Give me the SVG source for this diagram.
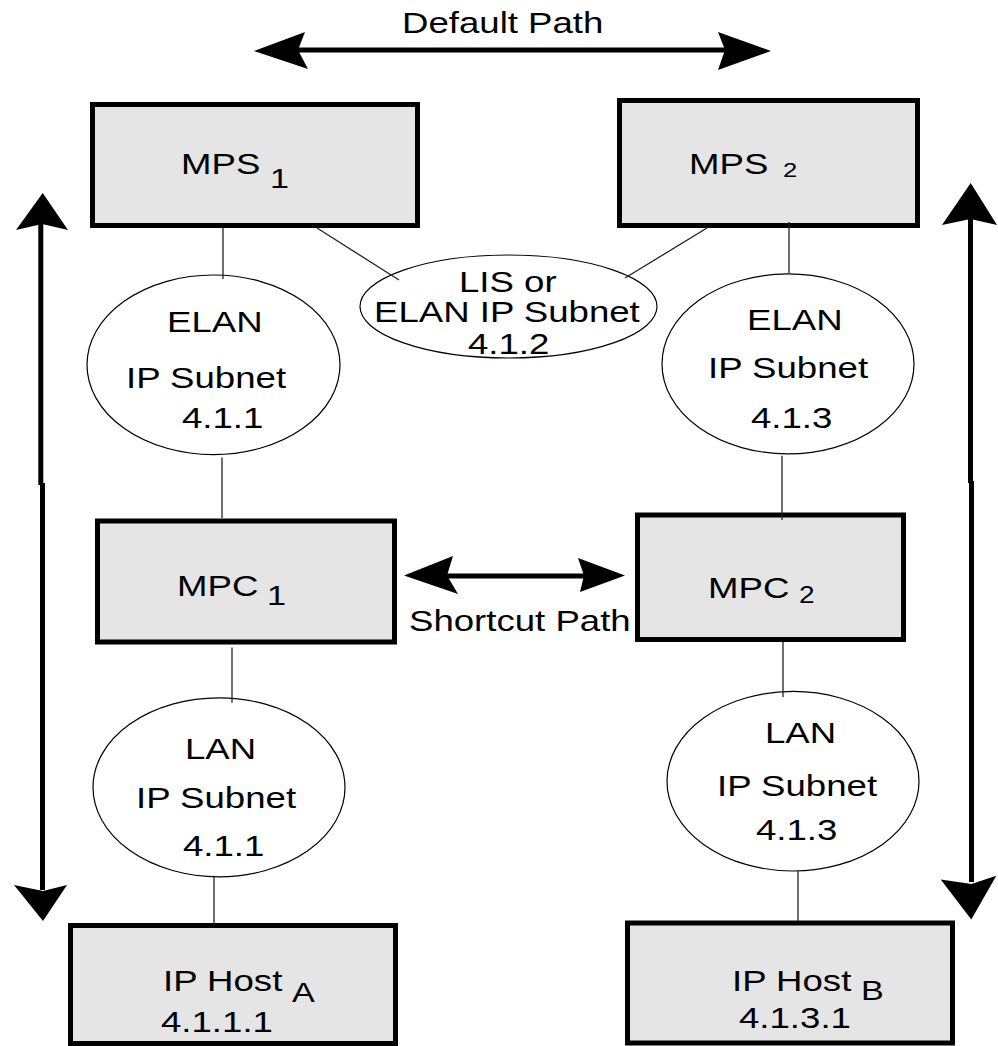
<svg xmlns="http://www.w3.org/2000/svg" width="998" height="1046" viewBox="0 0 998 1046">
  <style>
    .box { fill: #e5e5e5; stroke: #000; stroke-width: 5; }
    .net { fill: none; stroke: #000; stroke-width: 1.2; }
    .link { stroke: #222; stroke-width: 1.3; fill: none; }
    .path { stroke: #000; stroke-width: 5; fill: none; }
    .head { fill: #000; stroke: none; }
    .t { font-family: "Liberation Sans", Arial, sans-serif; font-size: 30px; fill: #000; }
    .s28 { font-size: 28px; }
    .s23 { font-size: 23px; }
    .s21 { font-size: 21px; }
  </style>
  <rect width="998" height="1046" fill="#fff"/>

  <!-- label for the default path arrow -->
  <text class="t" transform="matrix(1.22 0 0 1 402 33)">Default Path</text>

  <g id="mps1">
    <rect class="box" x="92.5" y="104.5" width="325" height="121"/>
    <text class="t" transform="matrix(1.22 0 0 1 181 174)">MPS</text>
    <text class="t s28" transform="matrix(1.22 0 0 1 270 188)">1</text>
  </g>

  <g id="mps2">
    <rect class="box" x="619.5" y="100.5" width="298" height="125"/>
    <text class="t" transform="matrix(1.22 0 0 1 689 174)">MPS</text>
    <text class="t s21" transform="matrix(1.22 0 0 1 783 177)">2</text>
  </g>

  <g id="lis">
    <ellipse class="net" cx="508.5" cy="306.5" rx="148.5" ry="51.5"/>
    <text class="t" transform="matrix(1.22 0 0 1 459 292)">LIS or</text>
    <text class="t" transform="matrix(1.22 0 0 1 374 322)">ELAN IP Subnet</text>
    <text class="t" transform="matrix(1.22 0 0 1 468 354)">4.1.2</text>
  </g>

  <g id="elan1">
    <ellipse class="net" cx="213.5" cy="364.8" rx="126.5" ry="89.8"/>
    <text class="t" transform="matrix(1.22 0 0 1 167 332)">ELAN</text>
    <text class="t" transform="matrix(1.22 0 0 1 126 388)">IP Subnet</text>
    <text class="t" transform="matrix(1.22 0 0 1 182 428)">4.1.1</text>
  </g>

  <g id="elan2">
    <ellipse class="net" cx="788" cy="363.9" rx="126" ry="90"/>
    <text class="t" transform="matrix(1.22 0 0 1 747 330)">ELAN</text>
    <text class="t" transform="matrix(1.22 0 0 1 708 378)">IP Subnet</text>
    <text class="t" transform="matrix(1.22 0 0 1 751 428)">4.1.3</text>
  </g>

  <g id="mpc1">
    <rect class="box" x="97.5" y="521" width="297" height="121"/>
    <text class="t" transform="matrix(1.22 0 0 1 177 596)">MPC</text>
    <text class="t s28" transform="matrix(1.22 0 0 1 267 605)">1</text>
  </g>

  <g id="mpc2">
    <rect class="box" x="637.5" y="515" width="266" height="124.5"/>
    <text class="t" transform="matrix(1.22 0 0 1 708 597.5)">MPC</text>
    <text class="t s23" transform="matrix(1.22 0 0 1 799 603)">2</text>
  </g>

  <!-- label for the shortcut path arrow -->
  <text class="t" transform="matrix(1.22 0 0 1 409 631)">Shortcut Path</text>

  <g id="lan1">
    <ellipse class="net" cx="219" cy="787.3" rx="126" ry="89.5"/>
    <text class="t" transform="matrix(1.22 0 0 1 185 758.6)">LAN</text>
    <text class="t" transform="matrix(1.22 0 0 1 136 808.4)">IP Subnet</text>
    <text class="t" transform="matrix(1.22 0 0 1 183 856)">4.1.1</text>
  </g>

  <g id="lan2">
    <ellipse class="net" cx="793" cy="781.2" rx="126" ry="89.8"/>
    <text class="t" transform="matrix(1.22 0 0 1 765 742.7)">LAN</text>
    <text class="t" transform="matrix(1.22 0 0 1 717 795.9)">IP Subnet</text>
    <text class="t" transform="matrix(1.22 0 0 1 756 840.3)">4.1.3</text>
  </g>

  <g id="hostA">
    <rect class="box" x="70.5" y="925.5" width="325" height="118"/>
    <text class="t" transform="matrix(1.22 0 0 1 163 991)">IP Host</text>
    <text class="t s28" transform="matrix(1.22 0 0 1 292 1002)">A</text>
    <text class="t" transform="matrix(1.22 0 0 1 161 1031.5)">4.1.1.1</text>
  </g>

  <g id="hostB">
    <rect class="box" x="627.5" y="923" width="325" height="120"/>
    <text class="t" transform="matrix(1.22 0 0 1 732 990.5)">IP Host</text>
    <text class="t s28" transform="matrix(1.22 0 0 1 861 1000.4)">B</text>
    <text class="t" transform="matrix(1.22 0 0 1 739 1027.7)">4.1.3.1</text>
  </g>

  <g id="connectors">
    <!-- thin attachment lines -->
    <line class="link" x1="223" y1="228" x2="223" y2="279"/>
    <line class="link" x1="317" y1="228" x2="399" y2="280"/>
    <line class="link" x1="707" y1="228" x2="625" y2="278"/>
    <line class="link" x1="789" y1="222" x2="789" y2="273"/>
    <line class="link" x1="222" y1="457.6" x2="222" y2="518"/>
    <line class="link" x1="782" y1="455.7" x2="782" y2="520"/>
    <line class="link" x1="232" y1="647.6" x2="232" y2="702.8"/>
    <line class="link" x1="783" y1="642" x2="783" y2="697"/>
    <line class="link" x1="214" y1="875.7" x2="214" y2="925"/>
    <line class="link" x1="798" y1="871" x2="798" y2="921"/>

    <!-- default path: double-headed arrow -->
    <line class="path" x1="296" y1="50" x2="727" y2="50"/>
    <polygon class="head" points="254,51 305,32 298,50 308,69"/>
    <polygon class="head" points="771,51 718,32 725,50 718,70"/>

    <!-- shortcut path: double-headed arrow -->
    <line class="path" x1="446" y1="576" x2="584" y2="576"/>
    <polygon class="head" points="404,575.5 453,556 447,575.5 458,594"/>
    <polygon class="head" points="625,575.5 578,558 584,575.5 580,592"/>

    <!-- left vertical double-headed arrow, drawn in two segments -->
    <line class="path" x1="40.8" y1="222" x2="40.8" y2="485"/>
    <line class="path" x1="42.5" y1="483" x2="42.5" y2="890"/>
    <polygon class="head" points="42.7,193 16,230 42,224 68,230"/>
    <polygon class="head" points="43,921 14,885 43,891 67,885"/>

    <!-- right vertical double-headed arrow, drawn in two segments -->
    <line class="path" x1="970.5" y1="218" x2="970.5" y2="483"/>
    <line class="path" x1="971.5" y1="481" x2="971.5" y2="882"/>
    <polygon class="head" points="970.7,183 942,225 970.5,219 997,225"/>
    <polygon class="head" points="971.3,919.4 940.7,879.5 971.5,884 996.3,875.7"/>
  </g>
</svg>
